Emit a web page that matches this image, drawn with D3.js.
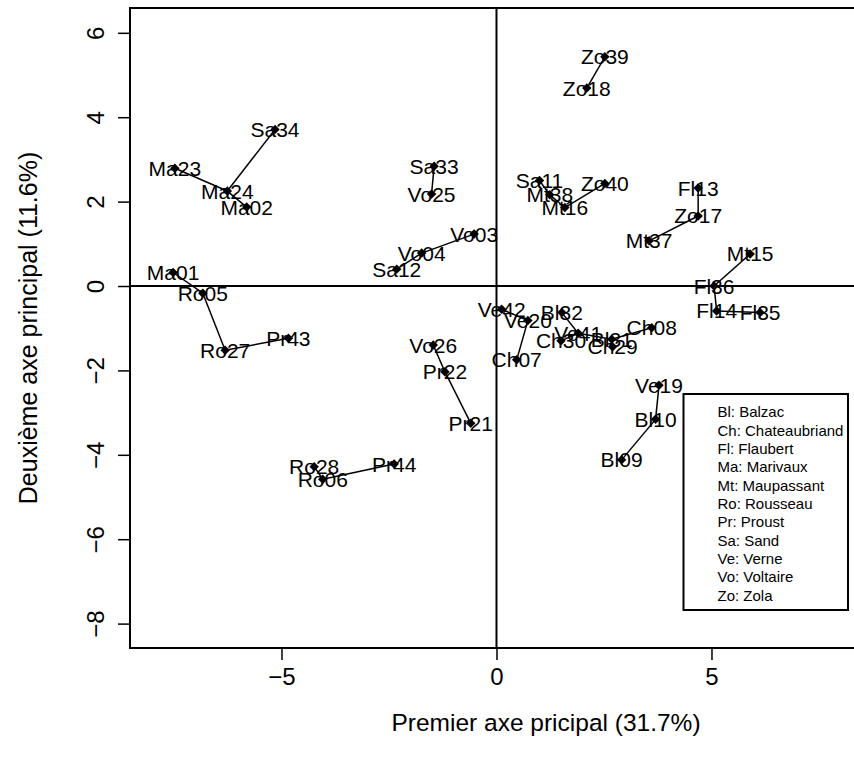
<!DOCTYPE html>
<html><head><meta charset="utf-8">
<script src="https://cdn.jsdelivr.net/npm/d3@7"></script>
<style>body{margin:0;background:#fff;overflow:hidden;} svg{display:block;}</style>
</head><body>
<svg id="c" width="854" height="769"></svg>
<script>
const labels = ["Ma01","Ma02","Vo03","Vo04","Ro05","Ro06","Ch07","Ch08","Bl09","Bl10","Sa11","Sa12","Fl13","Fl14","Mt15","Mt16","Zo17","Zo18","Ve19","Ve20","Pr21","Pr22","Ma23","Ma24","Vo25","Vo26","Ro27","Ro28","Ch29","Ch30","Bl31","Bl32","Sa33","Sa34","Fl35","Fl36","Mt37","Mt38","Zo39","Zo40","Ve41","Ve42","Pr43","Pr44"];
const xVals = [-7.52,-5.81,-0.52,-1.74,-6.83,-4.04,0.47,3.61,2.91,3.70,1.00,-2.32,4.69,5.12,5.90,1.59,4.69,2.10,3.78,0.73,-0.60,-1.20,-7.48,-6.26,-1.51,-1.47,-6.31,-4.24,2.70,1.50,2.68,1.52,-1.45,-5.15,6.13,5.06,3.55,1.24,2.52,2.52,1.90,0.12,-4.84,-2.38];
const yVals = [0.32,1.87,1.23,0.78,-0.17,-4.58,-1.75,-0.99,-4.12,-3.16,2.50,0.40,2.32,-0.59,0.76,1.86,1.66,4.69,-2.35,-0.82,-3.25,-2.03,2.79,2.25,2.18,-1.40,-1.52,-4.28,-1.44,-1.30,-1.26,-0.63,2.84,3.71,-0.63,0.00,1.07,2.16,5.43,2.43,-1.12,-0.55,-1.24,-4.22];
const links = [["Ma23","Ma24"],["Ma24","Ma02"],["Ma24","Sa34"],["Sa33","Vo25"],["Vo03","Vo04"],["Vo04","Sa12"],["Ma01","Ro05"],["Ro05","Ro27"],["Ro27","Pr43"],["Ro28","Ro06"],["Ro06","Pr44"],["Vo26","Pr22"],["Pr22","Pr21"],["Zo39","Zo18"],["Sa11","Mt38"],["Mt38","Mt16"],["Mt16","Zo40"],["Fl13","Zo17"],["Zo17","Mt37"],["Mt15","Fl36"],["Fl36","Fl14"],["Fl14","Fl35"],["Ve42","Ve20"],["Ve20","Ch07"],["Bl32","Ve41"],["Ch30","Ve41"],["Ve41","Bl31"],["Bl31","Ch29"],["Bl31","Ch08"],["Ve19","Bl10"],["Bl10","Bl09"]];
const xTicks = [-5,0,5];
const yTicks = [-8,-6,-4,-2,0,2,4,6];
const legendItems = ["Bl: Balzac","Ch: Chateaubriand","Fl: Flaubert","Ma: Marivaux","Mt: Maupassant","Ro: Rousseau","Pr: Proust","Sa: Sand","Ve: Verne","Vo: Voltaire","Zo: Zola"];
const xTitle = "Premier axe pricipal (31.7%)";
const yTitle = "Deuxième axe principal (11.6%)";

const svg = d3.select("#c");
const font = "'Liberation Sans', Arial, sans-serif";
const L = 130, R = 962, T = 8, B = 648;
const x = d3.scaleLinear().domain([-8.523, 10.826]).range([L, R]);
const y = d3.scaleLinear().domain([-8.578, 6.588]).range([B, T]);

// axes
const gx = svg.append("g").attr("transform", `translate(0,${B})`)
  .call(d3.axisBottom(x).tickValues(xTicks).tickSize(12).tickPadding(8).tickFormat(d => d < 0 ? "\u2212" + Math.abs(d) : d));
gx.select(".domain").attr("d", `M${x(xTicks[0])},0H${x(xTicks[xTicks.length-1])}`).attr("stroke-width", 1.5);
gx.selectAll(".tick line").attr("stroke-width", 1.5);
gx.selectAll("text").attr("font-family", font).attr("font-size", 24).attr("fill", "#000");

const gy = svg.append("g").attr("transform", `translate(${L},0)`)
  .call(d3.axisLeft(y).tickValues(yTicks).tickSize(12).tickFormat(d => d < 0 ? "\u2212" + Math.abs(d) : d));
gy.select(".domain").attr("d", `M0,${y(yTicks[0])}V${y(yTicks[yTicks.length-1])}`).attr("stroke-width", 1.5);
gy.selectAll(".tick line").attr("stroke-width", 1.5);
gy.selectAll(".tick text").attr("font-family", font).attr("font-size", 24).attr("fill", "#000")
  .attr("x", null).attr("dy", null).attr("text-anchor", "middle").attr("dominant-baseline", "central")
  .attr("transform", "translate(-35,0) rotate(-90)");

// frame
svg.append("rect").attr("x", L).attr("y", T).attr("width", R - L).attr("height", B - T)
  .attr("fill", "none").attr("stroke", "#000").attr("stroke-width", 2);

// reference lines
svg.append("line").attr("x1", L).attr("x2", R).attr("y1", y(0)).attr("y2", y(0)).attr("stroke", "#000").attr("stroke-width", 2);
svg.append("line").attr("y1", T).attr("y2", B).attr("x1", x(0)).attr("x2", x(0)).attr("stroke", "#000").attr("stroke-width", 2);

const pts = labels.map((l, i) => ({l, x: xVals[i], y: yVals[i]}));
const byL = new Map(pts.map(p => [p.l, p]));

svg.append("g").selectAll("line").data(links).join("line")
  .attr("x1", d => x(byL.get(d[0]).x)).attr("y1", d => y(byL.get(d[0]).y))
  .attr("x2", d => x(byL.get(d[1]).x)).attr("y2", d => y(byL.get(d[1]).y))
  .attr("stroke", "#000").attr("stroke-width", 1.5);

svg.append("g").selectAll("text").data(pts).join("text")
  .attr("x", d => x(d.x)).attr("y", d => y(d.y))
  .attr("text-anchor", "middle").attr("dominant-baseline", "central")
  .attr("font-family", font).attr("font-size", 21).attr("fill", "#000")
  .text(d => d.l);

const sym = d3.symbol().type(d3.symbolSquare).size(45);
svg.append("g").selectAll("path").data(pts).join("path")
  .attr("d", sym).attr("fill", "#000")
  .attr("transform", d => `translate(${x(d.x)},${y(d.y)}) rotate(45)`);

// titles
svg.append("text").attr("x", (L + R) / 2).attr("y", 722).attr("text-anchor", "middle").attr("dominant-baseline", "central")
  .attr("font-family", font).attr("font-size", 24.5).text(xTitle);
svg.append("text").attr("transform", `translate(28,${(T + B) / 2}) rotate(-90)`).attr("text-anchor", "middle").attr("dominant-baseline", "central")
  .attr("font-family", font).attr("font-size", 25).text(yTitle);

// legend
const lg = svg.append("g");
lg.append("rect").attr("x", 683.5).attr("y", 394).attr("width", 164.5).attr("height", 216)
  .attr("fill", "#fff").attr("stroke", "#000").attr("stroke-width", 2);
lg.selectAll("text").data(legendItems).join("text")
  .attr("x", 717.5).attr("y", (d, i) => 411.7 + i * 18.33).attr("dominant-baseline", "central")
  .attr("font-family", font).attr("font-size", 15).text(d => d);
</script>
</body></html>
